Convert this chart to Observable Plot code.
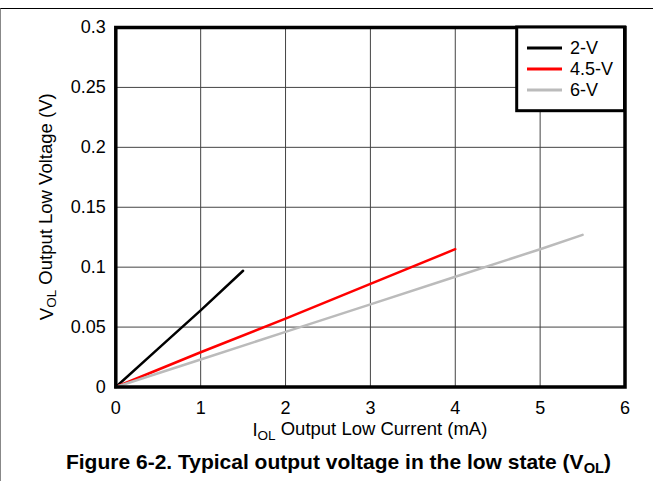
<!DOCTYPE html>
<html>
<head>
<meta charset="utf-8">
<script src="https://cdn.jsdelivr.net/npm/d3@7"></script>
<script src="https://cdn.jsdelivr.net/npm/@observablehq/plot@0.6"></script>
<style>
  html, body { margin: 0; padding: 0; background: #fff; }
  #wrap { position: relative; width: 653px; height: 481px; overflow: hidden; font-family: "Liberation Sans", Arial, sans-serif; }
  #border { position: absolute; left: 0; top: 8px; width: 660px; height: 480px; border-top: 1.5px solid #000; border-left: 1.5px solid #888; box-sizing: border-box; }
  #chart { position: absolute; left: 0; top: 0; }
  #caption { position: absolute; left: 12px; width: 653px; top: 450px; text-align: center; font-weight: bold; font-size: 21px; line-height: 24px; color: #000; }
  #caption sub { font-size: 70%; vertical-align: -0.25em; line-height: 0; }
</style>
</head>
<body>
<div id="wrap">
  <div id="border"></div>
  <div id="chart"></div>
  <div id="caption">Figure 6-2. Typical output voltage in the low state (V<sub>OL</sub>)</div>
</div>
<script>
// Data
const seriesNames = ["2-V", "4.5-V", "6-V"];
const seriesColors = ["#000000", "#ff0000", "#bbbbbb"];
const current2V = [0, 0.5, 1, 1.5];
const voltage2V = [0, 0.032, 0.064, 0.097];
const current45V = [0, 1, 2, 3, 4];
const voltage45V = [0, 0.029, 0.057, 0.086, 0.115];
const current6V = [0, 1, 2, 3, 4, 5, 5.5];
const voltage6V = [0, 0.023, 0.046, 0.069, 0.092, 0.115, 0.127];
const xTicks = [0, 1, 2, 3, 4, 5, 6];
const xTickLabels = ["0", "1", "2", "3", "4", "5", "6"];
const yTicks = [0, 0.05, 0.1, 0.15, 0.2, 0.25, 0.3];
const yTickLabels = ["0", "0.05", "0.1", "0.15", "0.2", "0.25", "0.3"];

const rows = [];
[[current2V, voltage2V], [current45V, voltage45V], [current6V, voltage6V]].forEach(([xs, ys], i) => {
  xs.forEach((x, j) => rows.push({series: seriesNames[i], x, y: ys[j]}));
});

const W = 653, H = 445;
const mL = 115.3, mR = 28.5, mT = 27, mB = 58.5;
const lookup = (ticks, labels) => d => labels[ticks.findIndex(t => Math.abs(t - d) < 1e-9)];

const plot = Plot.plot({
  width: W,
  height: H,
  marginLeft: mL,
  marginRight: mR,
  marginTop: mT,
  marginBottom: mB,
  style: {fontFamily: '"Liberation Sans", Arial, sans-serif', fontSize: "18px", color: "#000", background: "transparent", overflow: "visible"},
  x: {domain: [0, 6]},
  y: {domain: [0, 0.3]},
  color: {domain: seriesNames, range: seriesColors},
  marks: [
    Plot.gridX(xTicks, {stroke: "#444", strokeOpacity: 1, strokeWidth: 1}),
    Plot.gridY(yTicks, {stroke: "#444", strokeOpacity: 1, strokeWidth: 1}),
    Plot.axisX({ticks: xTicks, tickSize: 0, tickPadding: 14, label: null, fontSize: 18, tickFormat: lookup(xTicks, xTickLabels)}),
    Plot.axisY({ticks: yTicks, tickSize: 0, tickPadding: 10, label: null, fontSize: 18, tickFormat: lookup(yTicks, yTickLabels)}),
    Plot.line(rows, {x: "x", y: "y", z: "series", stroke: "series", strokeWidth: 2.5}),
    Plot.frame({stroke: "#000", strokeWidth: 3.5})
  ]
});
document.getElementById("chart").appendChild(plot);

const svg = d3.select(plot);
const font = '"Liberation Sans", Arial, sans-serif';
svg.selectAll('[aria-label="x-axis tick label"], [aria-label="y-axis tick label"]')
  .attr("font-size", 18).style("font-size", "18px");

// Y axis label
const yl = svg.append("text")
  .attr("transform", `translate(48,${(mT + (H - mB)) / 2}) rotate(-90)`)
  .attr("text-anchor", "middle")
  .attr("dominant-baseline", "middle")
  .attr("font-family", font).attr("font-size", 18.5).attr("fill", "#000");
yl.append("tspan").text("V");
yl.append("tspan").attr("font-size", 13.5).attr("dy", "0.3em").text("OL");
yl.append("tspan").attr("dy", "-0.3em").text(" Output Low Voltage (V)");

// X axis label
const xl = svg.append("text")
  .attr("x", (mL + (W - mR)) / 2).attr("y", 436)
  .attr("text-anchor", "middle")
  .attr("font-family", font).attr("font-size", 18.5).attr("fill", "#000");
xl.append("tspan").text("I");
xl.append("tspan").attr("font-size", 13.5).attr("dy", "0.3em").text("OL");
xl.append("tspan").attr("dy", "-0.3em").text(" Output Low Current (mA)");

// Legend
const lx0 = 516.7, ly0 = mT, lx1 = W - mR, ly1 = 110.7;
const lg = svg.append("g").attr("text-anchor", "start");
lg.append("rect").attr("x", lx0).attr("y", ly0).attr("width", lx1 - lx0).attr("height", ly1 - ly0)
  .attr("fill", "#fff").attr("stroke", "#000").attr("stroke-width", 3);
seriesNames.forEach((name, i) => {
  const y = 48 + i * 21;
  lg.append("line").attr("x1", 527).attr("x2", 562).attr("y1", y).attr("y2", y)
    .attr("stroke", seriesColors[i]).attr("stroke-width", 3);
  lg.append("text").attr("x", 570).attr("y", y).attr("dy", "0.35em").attr("text-anchor", "start")
    .attr("font-family", font).attr("font-size", 18).attr("fill", "#000").text(name);
});
</script>
</body>
</html>
